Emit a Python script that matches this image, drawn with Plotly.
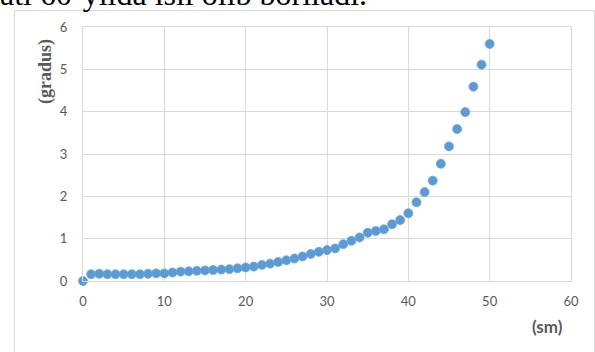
import plotly.graph_objects as go

distance_sm = list(range(0, 51))
angle_gradus = [0.00, 0.16, 0.17, 0.16, 0.16, 0.16, 0.16, 0.16, 0.17, 0.18,
                0.18, 0.20, 0.22, 0.23, 0.24, 0.25, 0.26, 0.27, 0.28, 0.30,
                0.32, 0.34, 0.38, 0.41, 0.45, 0.49, 0.53, 0.58, 0.64, 0.69,
                0.73, 0.77, 0.87, 0.95, 1.03, 1.14, 1.18, 1.22, 1.34, 1.44,
                1.60, 1.86, 2.10, 2.37, 2.77, 3.18, 3.59, 3.99, 4.59, 5.11,
                5.60]
x_ticks = [0, 10, 20, 30, 40, 50, 60]
y_ticks = [0, 1, 2, 3, 4, 5, 6]
x_title = "(sm)"
y_title = "(gradus)"
top_text = "ati 60-yilda isli olib boriladi."

W, H = 595, 352
ML, MR, MT, MB = 83, 24, 27, 71
PW, PH = W - ML - MR, H - MT - MB

def px(x):
    return (x - ML) / PW

def py(y):
    return (H - MB - y) / PH

fig = go.Figure()
fig.add_trace(go.Scatter(
    x=distance_sm, y=angle_gradus, mode="markers",
    marker=dict(size=9, color="#5B9BD5", line=dict(width=0.8, color="#6aa5dc")),
    showlegend=False, cliponaxis=False,
))

grid = "#d9d9d9"
tickfont = dict(family="Lato, Open Sans, sans-serif", size=13, color="#595959")
fig.update_xaxes(range=[0, 60], tickvals=x_ticks, showgrid=True, gridcolor=grid,
                 gridwidth=1, zeroline=False, showline=True, linecolor=grid,
                 mirror=True, ticks="outside", ticklen=8,
                 tickcolor="rgba(0,0,0,0)", tickfont=tickfont)
fig.update_yaxes(range=[0, 6], tickvals=y_ticks, showgrid=True, gridcolor=grid,
                 gridwidth=1, zeroline=False, showline=True, linecolor=grid,
                 mirror=True, ticks="outside", ticklen=12,
                 tickcolor="rgba(0,0,0,0)", tickfont=tickfont)

fig.add_shape(type="rect", xref="paper", yref="paper",
              x0=px(14.5), x1=px(594.5), y0=py(360), y1=py(10.5),
              line=dict(color="#d9d9d9", width=1), layer="below")

fig.add_annotation(text="<b>" + y_title + "</b>", xref="paper", yref="paper",
                   x=px(45), y=py(72),
                   textangle=-90, showarrow=False, xanchor="center", yanchor="middle",
                   font=dict(family="Liberation Serif, serif", size=18, color="#595959"))
fig.add_annotation(text="<b>" + x_title + "</b>", xref="paper", yref="paper",
                   x=px(547), y=py(326), showarrow=False, xanchor="center",
                   yanchor="middle",
                   font=dict(family="Lato, sans-serif", size=17, color="#595959"))
fig.add_annotation(text=top_text, xref="paper", yref="paper", x=px(-2), y=py(14),
                   showarrow=False, xanchor="left", yanchor="bottom",
                   font=dict(family="Liberation Serif, serif", size=32, color="#000000"))

fig.update_layout(width=W, height=H, margin=dict(l=ML, r=MR, t=MT, b=MB),
                  paper_bgcolor="white", plot_bgcolor="white")
fig.write_html("out.html")
